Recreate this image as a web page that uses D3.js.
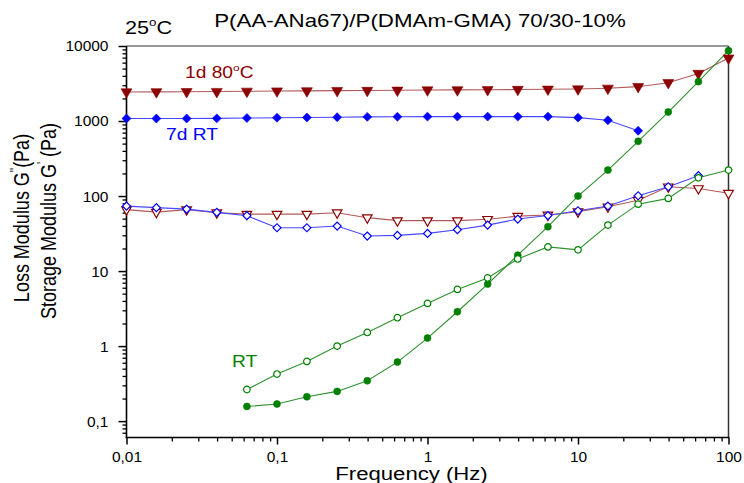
<!DOCTYPE html>
<html><head><meta charset="utf-8">
<script src="https://cdn.jsdelivr.net/npm/d3@7"></script>
<style>body{margin:0;background:#fff}svg{display:block}text{font-family:"Liberation Sans",Arial,sans-serif}</style>
</head><body>
<svg id="c" width="744" height="483"></svg>
<script>
// ---- data ----
const freq = [0.01, 0.0158, 0.0251, 0.0398, 0.0631, 0.1, 0.158, 0.251, 0.398, 0.631, 1, 1.58, 2.51, 3.98, 6.31, 10, 15.8, 25.1, 39.8, 63.1, 100];
const freqRT = [0.0631, 0.1, 0.158, 0.251, 0.398, 0.631, 1, 1.58, 2.51, 3.98, 6.31, 10, 15.8, 25.1, 39.8, 63.1, 100];
const freq7dStorage = [0.01, 0.0158, 0.0251, 0.0398, 0.0631, 0.1, 0.158, 0.251, 0.398, 0.631, 1, 1.58, 2.51, 3.98, 6.31, 10, 15.8, 25.1];
const freq7dLoss = [0.01, 0.0158, 0.0251, 0.0398, 0.0631, 0.1, 0.158, 0.251, 0.398, 0.631, 1, 1.58, 2.51, 3.98, 6.31, 10, 15.8, 25.1, 39.8, 63.1];

const storage1d80 = [2440, 2450, 2460, 2470, 2490, 2510, 2520, 2540, 2550, 2570, 2590, 2600, 2610, 2630, 2650, 2670, 2730, 2870, 3240, 4300, 6900];
const loss1d80 = [66, 61, 66, 60, 57.5, 57.5, 57.5, 60, 51.5, 47, 47, 47, 49, 54, 56, 62, 72, 88, 133, 126, 109];
const storage7dRT = [1080, 1080, 1080, 1085, 1095, 1105, 1115, 1125, 1135, 1140, 1145, 1145, 1145, 1145, 1145, 1110, 1025, 740];
const loss7dRT = [73.5, 70, 67, 60.6, 54.7, 37.8, 37.8, 39.8, 29.3, 29.9, 31.8, 35.6, 41, 49.4, 55, 63.7, 73.6, 101, 133, 187];
const storageRT = [0.157, 0.169, 0.211, 0.249, 0.345, 0.612, 1.28, 2.87, 6.7, 16.3, 39, 100, 222, 536, 1318, 3350, 8660];
const lossRT = [0.264, 0.424, 0.625, 1.0, 1.52, 2.39, 3.71, 5.7, 8.1, 14.5, 21, 19.2, 41, 78, 93, 175, 222];

const xTickValues = [0.01, 0.1, 1, 10, 100];
const xTickLabels = ["0,01", "0,1", "1", "10", "100"];
const yTickValues = [0.1, 1, 10, 100, 1000, 10000];
const yTickLabels = ["0,1", "1", "10", "100", "1000", "10000"];

// ---- layout ----
const svg = d3.select("#c");
const L = 126.5, R = 728.5, T = 46, B = 437.5;
const x = d3.scaleLog().domain([0.01, 100]).range([L, R]);
const y = d3.scaleLog().domain([0.0605, 10000]).range([B, T]);

const red = "#8b0000", redLine = "#b05a5a";
const blue = "#0000ff", blueLine = "#4848ff";
const green = "#008000", greenLine = "#2e902e";

function minors(lo, hi) {
  const out = [];
  for (let k = lo; k <= hi; k++) for (let m = 2; m <= 9; m++) out.push(m * Math.pow(10, k));
  return out;
}

// axes
const xMinor = minors(-2, 1);
svg.append("g").attr("transform", `translate(0,${B})`)
  .call(d3.axisBottom(x).tickValues(xMinor).tickSize(4).tickFormat(""))
  .call(g => g.select(".domain").remove())
  .call(g => g.selectAll("line").attr("stroke", "#000").attr("stroke-width", 1.3));
svg.append("g").attr("transform", `translate(0,${B})`)
  .call(d3.axisBottom(x).tickValues(xTickValues).tickSize(7).tickPadding(6)
    .tickFormat((d, i) => xTickLabels[i]))
  .call(g => g.select(".domain").remove())
  .call(g => g.selectAll("line").attr("stroke", "#000").attr("stroke-width", 1.5))
  .call(g => g.selectAll("text").attr("fill", "#000").attr("font-size", 15.5)
    .attr("font-family", "Liberation Sans, Arial, sans-serif"));

const yMinor = minors(-2, 3).filter(v => v >= 0.0605 && v <= 10000);
svg.append("g").attr("transform", `translate(${L},0)`)
  .call(d3.axisLeft(y).tickValues(yMinor).tickSize(4).tickFormat(""))
  .call(g => g.select(".domain").remove())
  .call(g => g.selectAll("line").attr("stroke", "#000").attr("stroke-width", 1.3));
svg.append("g").attr("transform", `translate(${L},0)`)
  .call(d3.axisLeft(y).tickValues(yTickValues).tickSize(8).tickPadding(10)
    .tickFormat((d, i) => yTickLabels[i]))
  .call(g => g.select(".domain").remove())
  .call(g => g.selectAll("line").attr("stroke", "#000").attr("stroke-width", 1.5))
  .call(g => g.selectAll("text").attr("fill", "#000").attr("font-size", 15.5)
    .attr("font-family", "Liberation Sans, Arial, sans-serif"));

// frame
svg.append("line").attr("x1", L).attr("x2", R).attr("y1", T).attr("y2", T).attr("stroke", "#333").attr("stroke-width", 1.2);
svg.append("line").attr("x1", R).attr("x2", R).attr("y1", T).attr("y2", B).attr("stroke", "#333").attr("stroke-width", 1.5);
svg.append("line").attr("x1", L).attr("x2", L).attr("y1", T).attr("y2", B + 0.75).attr("stroke", "#000").attr("stroke-width", 1.6);
svg.append("line").attr("x1", L - 0.8).attr("x2", R + 0.75).attr("y1", B).attr("y2", B).attr("stroke", "#000").attr("stroke-width", 1.6);

// series
const series = [
  { xs: freq, ys: storage1d80, color: red, line: redLine, shape: "tri", filled: true },
  { xs: freq, ys: loss1d80, color: red, line: redLine, shape: "tri", filled: false },
  { xs: freq7dStorage, ys: storage7dRT, color: blue, line: blueLine, shape: "dia", filled: true },
  { xs: freq7dLoss, ys: loss7dRT, color: blue, line: blueLine, shape: "dia", filled: false },
  { xs: freqRT, ys: storageRT, color: green, line: greenLine, shape: "circ", filled: true },
  { xs: freqRT, ys: lossRT, color: green, line: greenLine, shape: "circ", filled: false }
];
const lineGen = d3.line().x(d => x(d[0])).y(d => y(d[1]));
const plot = svg.append("g");
series.forEach(s => {
  const pts = s.xs.map((f, i) => [f, s.ys[i]]);
  plot.append("path").attr("d", lineGen(pts)).attr("fill", "none")
    .attr("stroke", s.line).attr("stroke-width", 1.1);
});
series.forEach(s => {
  const pts = s.xs.map((f, i) => [f, s.ys[i]]);
  let sym, size, rot = 0;
  if (s.shape === "tri") { sym = d3.symbolTriangle; size = s.filled ? 52 : 40; rot = 180; }
  else if (s.shape === "dia") { sym = d3.symbolSquare; size = s.filled ? 40 : 32; rot = 45; }
  else { sym = d3.symbolCircle; size = s.filled ? 38 : 34; }
  const gen = d3.symbol(sym, size);
  plot.selectAll(null).data(pts).enter().append("path")
    .attr("d", gen)
    .attr("transform", d => `translate(${x(d[0])},${y(d[1])}) rotate(${rot})`)
    .attr("fill", s.filled ? s.color : "#fff")
    .attr("stroke", s.color).attr("stroke-width", s.filled ? 0.6 : 1.2);
});

// stretched text helper
function label(xp, yp, sx, anchor, size, color, parts, rotate) {
  const g = svg.append("g").attr("transform", `translate(${xp},${yp}) scale(${sx},1)` + (rotate ? ` rotate(${rotate})` : ""));
  const t = g.append("text").attr("text-anchor", anchor).attr("font-size", size).attr("fill", color);
  parts.forEach(p => {
    const ts = t.append("tspan").text(p.t);
    if (p.sup) ts.attr("font-size", size * 0.62).attr("dy", -size * 0.42);
    if (p.back) ts.attr("dy", size * 0.42);
  });
  return t;
}

label(125, 34, 1.2, "start", 18, "#000", [{ t: "25" }, { t: "o", sup: true }, { t: "C", back: true }]);
label(420, 27, 1.24, "middle", 18, "#000", [{ t: "P(AA-ANa67)/P(DMAm-GMA) 70/30-10%" }]);
label(411.5, 480, 1.23, "middle", 18, "#000", [{ t: "Frequency (Hz)" }]);
label(185, 78, 1.2, "start", 16, red, [{ t: "1d 80" }, { t: "o", sup: true }, { t: "C", back: true }]);
label(166, 140, 1.2, "start", 16, blue, [{ t: "7d RT" }]);
label(232, 367, 1.2, "start", 16, green, [{ t: "RT" }]);

label(29, 218, 1.24, "middle", 18, "#000", [{ t: "Loss Modulus G" }, { t: "''", sup: true }, { t: "(Pa)", back: true }], -90);
label(56, 221, 1.24, "middle", 18, "#000", [{ t: "Storage Modulus G" }, { t: "'", sup: true }, { t: " (Pa)", back: true }], -90);
</script>
</body></html>
